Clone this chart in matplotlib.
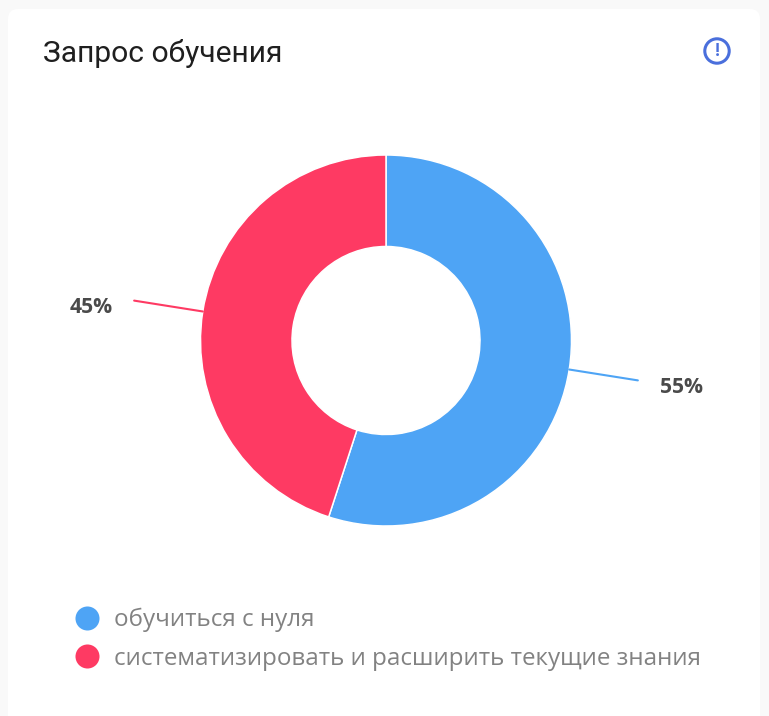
import numpy as np
import matplotlib
matplotlib.use("Agg")
import matplotlib.pyplot as plt
from matplotlib.patches import FancyBboxPatch, Circle
from matplotlib.lines import Line2D

title = "Запрос обучения"
categories = ["обучиться с нуля", "систематизировать и расширить текущие знания"]
values = [55, 45]
value_labels = ["55%", "45%"]
colors = ["#4ea4f5", "#fe3a63"]

W, H = 769, 716
plt.rcParams["font.family"] = ["Roboto", "DejaVu Sans"]
fig = plt.figure(figsize=(W / 100, H / 100), dpi=100, facecolor="#f9f9f9")
ax = fig.add_axes([0, 0, 1, 1])
ax.set_xlim(0, W)
ax.set_ylim(0, H)
ax.axis("off")

card = FancyBboxPatch((8, -40), 752, 747, boxstyle="round,pad=0,rounding_size=10",
                      fc="white", ec="none", zorder=0)
ax.add_patch(card)

cx, cy, R = 386, H - 340.5, 185.5
wedges, _ = ax.pie(values, colors=colors, startangle=90, counterclock=False,
                   center=(cx, cy), radius=R, frame=True,
                   wedgeprops=dict(width=91.5, edgecolor="white", linewidth=1.1))
ax.set_xlim(0, W)
ax.set_ylim(0, H)
ax.set_aspect("auto")
ax.axis("off")

for w, lab, col in zip(wedges, value_labels, colors):
    a = np.deg2rad((w.theta1 + w.theta2) / 2)
    ux, uy = np.cos(a), np.sin(a)
    ex, ey = cx + 255 * ux, cy + 255 * uy
    ax.plot([cx + R * ux, ex], [cy + R * uy, ey],
            color=col, lw=1.5, solid_capstyle="round", zorder=3)
    ax.text(ex + 43 * np.sign(ux) + 0.5, ey - 7, lab, fontsize=15.2, fontweight="bold",
            color="#4a4a4a", ha="center", va="center", family=["Open Sans", "DejaVu Sans"])

ax.text(43, H - 53, title, fontsize=21.6, color="#1f1f1f", ha="left", va="center")

# info icon
ax.add_patch(Circle((717, H - 51), 12.2, fc="none", ec="#4a6fdc", lw=2.2, zorder=3))
ax.text(717, H - 51, "!", fontsize=13, fontweight="bold", color="#4a6fdc",
        ha="center", va="center")

handles = [Line2D([], [], ls="none", marker="o", ms=17.3, mfc=c, mec="none") for c in colors]
leg = ax.legend(handles, categories, loc="upper left", bbox_to_anchor=(75 / W, (H - 608) / H),
                frameon=False, labelcolor="#828282", handlelength=1.0,
                handletextpad=0.6, labelspacing=0.6, borderpad=0, borderaxespad=0,
                prop=dict(family=["Open Sans", "DejaVu Sans"], size=17.35))

fig.savefig("out.png", dpi=100, facecolor=fig.get_facecolor())
